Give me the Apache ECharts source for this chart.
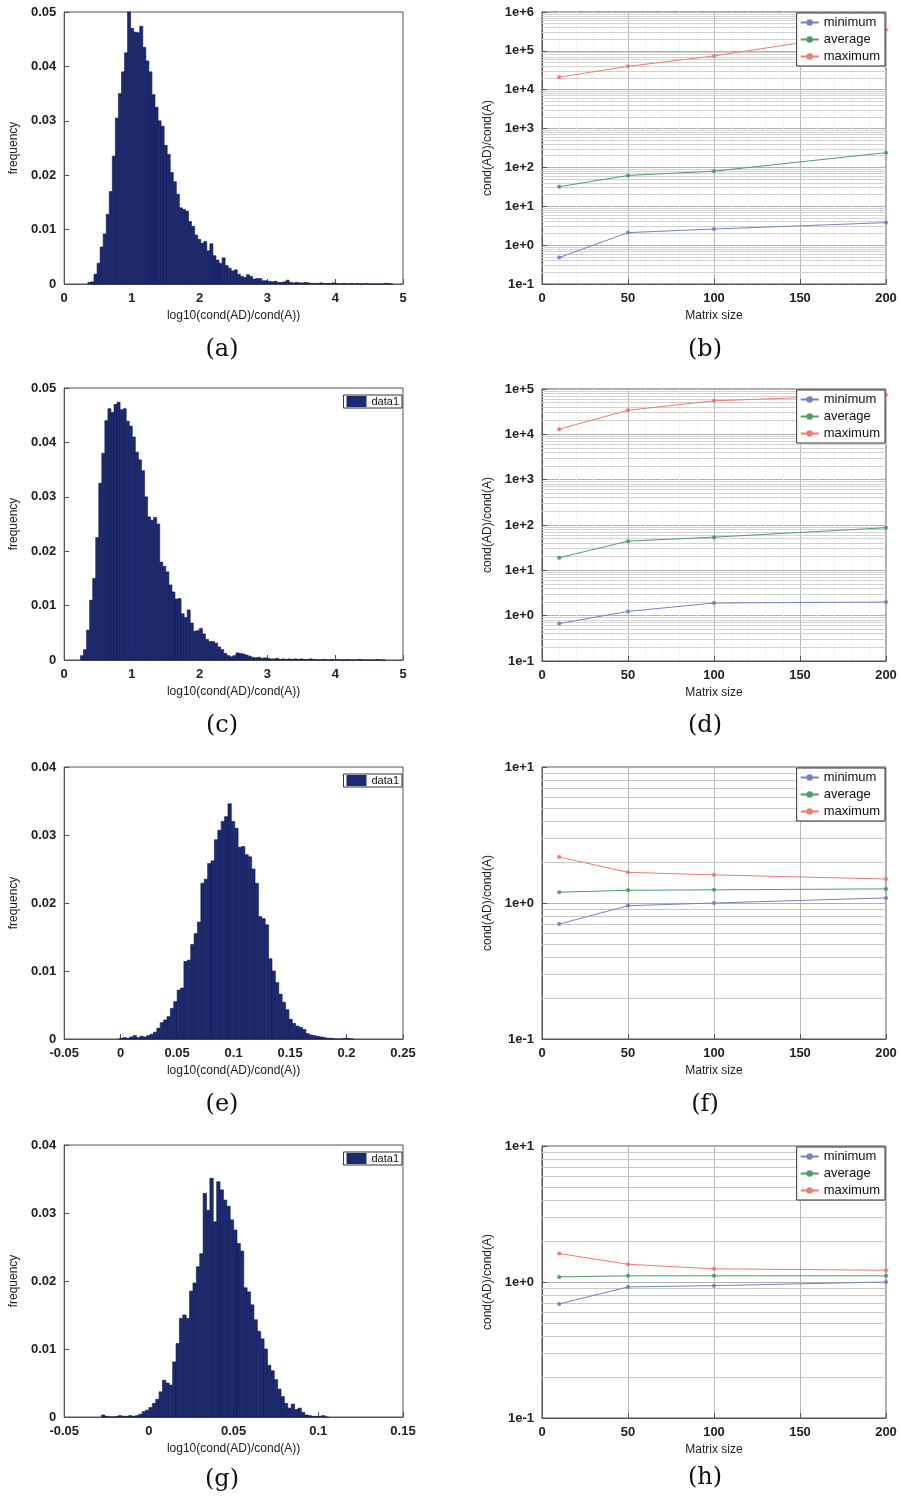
<!DOCTYPE html>
<html>
<head>
<meta charset="utf-8">
<title>cond(AD)/cond(A)</title>
<script src="https://cdn.jsdelivr.net/npm/echarts@6/dist/echarts.min.js"></script>
<style>
  html, body { margin: 0; padding: 0; background: #fff; }
  .panel { position: absolute; }
</style>
</head>
<body>
<div id="pa" class="panel" style="left:0;top:0;width:450px;height:370px"></div>
<div id="pb" class="panel" style="left:450px;top:0;width:451px;height:370px"></div>
<div id="pc" class="panel" style="left:0;top:370px;width:450px;height:380px"></div>
<div id="pd" class="panel" style="left:450px;top:370px;width:451px;height:380px"></div>
<div id="pe" class="panel" style="left:0;top:750px;width:450px;height:380px"></div>
<div id="pf" class="panel" style="left:450px;top:750px;width:451px;height:380px"></div>
<div id="pg" class="panel" style="left:0;top:1130px;width:450px;height:369px"></div>
<div id="ph" class="panel" style="left:450px;top:1130px;width:451px;height:369px"></div>
<script>
// histogram heights (frequency), one value per bin
var histA = [0.0003,0.0004,0.0018,0.0038,0.0068,0.0092,0.0128,0.0170,0.0235,0.0305,
    0.0350,0.0390,0.0425,0.0500,0.0470,0.0463,0.0462,0.0474,0.0435,0.0410,
    0.0390,0.0348,0.0325,0.0300,0.0290,0.0255,0.0238,0.0205,0.0188,0.0165,
    0.0140,0.0137,0.0134,0.0115,0.0106,0.0090,0.0082,0.0075,0.0078,0.0061,
    0.0074,0.0052,0.0044,0.0038,0.0048,0.0034,0.0029,0.0024,0.0026,0.0018,
    0.0014,0.0012,0.0017,0.0014,0.0009,0.0010,0.0010,0.0006,0.0006,0.0005,
    0.0004,0.0005,0.0003,0.0003,0.0004,0.0007,0.0003,0.0002,0.0003,0.0002,
    0.0002,0.0003,0.0002,0.0001,0.0001,0.0001,0.0002,0.0001,0.0001,0.0001,
    0.0002,0.0001,0,0.0001,0.0001,0,0.0001,0,0.0001,0,
    0,0.0001,0,0,0,0,0,0.0001,0.0001,0];
var histAStart = 0.35, histABin = 0.045;

var histC = [0.0008,0.0019,0.0055,0.0110,0.0150,0.0225,0.0325,0.0380,0.0440,0.0462,
    0.0455,0.0470,0.0474,0.0460,0.0462,0.0439,0.0430,0.0410,0.0382,0.0368,
    0.0348,0.0300,0.0263,0.0257,0.0262,0.0250,0.0180,0.0172,0.0162,0.0138,
    0.0125,0.0112,0.0113,0.0085,0.0078,0.0092,0.0068,0.0053,0.0054,0.0058,
    0.0048,0.0038,0.0034,0.0034,0.0031,0.0024,0.0019,0.0012,0.0008,0.0006,
    0.0008,0.0013,0.0012,0.0011,0.0009,0.0007,0.0005,0.0004,0.0005,0.0003,
    0.0004,0.0003,0.0002,0.0002,0.0003,0.0001,0.0002,0.0001,0.0002,0.0001,
    0.0002,0.0001,0.0002,0.0001,0.0001,0.0002,0.0001,0.0001,0,0.0001,
    0.0001,0,0.0001,0,0.0001,0,0,0.0001,0,0,
    0,0.0001,0,0,0,0,0,0.0001,0,0];
var histCStart = 0.24, histCBin = 0.045;

var histE = [0.0001,0.0002,0.0001,0.0003,0.0005,0.0002,0.0004,0.0003,0.0005,0.0007,
    0.0010,0.0016,0.0024,0.0028,0.0033,0.0045,0.0055,0.0072,0.0075,0.0114,
    0.0116,0.0139,0.0155,0.0172,0.0229,0.0235,0.0258,0.0262,0.0293,0.0307,
    0.0320,0.0327,0.0346,0.0320,0.0310,0.0282,0.0283,0.0271,0.0268,0.0250,
    0.0229,0.0180,0.0177,0.0168,0.0118,0.0100,0.0083,0.0066,0.0054,0.0043,
    0.0029,0.0023,0.0019,0.0017,0.0014,0.0008,0.0006,0.0005,0.0004,0.0003,
    0.0002,0.0001,0.0001,0,0,0,0.0001,0.0001,0];
var histEStart = -0.001, histEBin = 0.003;

var histG = [0.0003,0.0001,0,0,0.0001,0.0002,0.0001,0.0001,0.0002,0.0001,
    0.0002,0.0004,0.0008,0.0010,0.0014,0.0020,0.0026,0.0037,0.0054,0.0050,
    0.0047,0.0081,0.0108,0.0145,0.0150,0.0145,0.0185,0.0197,0.0221,0.0240,
    0.0329,0.0304,0.0351,0.0287,0.0346,0.0334,0.0319,0.0310,0.0290,0.0275,
    0.0255,0.0244,0.0190,0.0184,0.0165,0.0143,0.0126,0.0115,0.0100,0.0076,
    0.0068,0.0055,0.0041,0.0030,0.0020,0.0013,0.0019,0.0011,0.0013,0.0007,
    0.0003,0.0002,0.0001,0.0001,0.0001,0.0002,0];
var histGStart = -0.028, histGBin = 0.002;

// cond(AD)/cond(A) against matrix size
var matrixSize = [10, 50, 100, 200];
var minB = [0.48, 2.1, 2.6, 3.8];
var avgB = [32, 62, 80, 240];
var maxB = [21000, 40000, 74000, 350000];
var minD = [0.67, 1.24, 1.9, 2.0];
var avgD = [19, 44, 54, 87];
var maxD = [13000, 34000, 55000, 75000];
var minF = [0.70, 0.955, 1.0, 1.09];
var avgF = [1.2, 1.24, 1.25, 1.27];
var maxF = [2.18, 1.68, 1.61, 1.5];
var minH = [0.69, 0.92, 0.94, 1.0];
var avgH = [1.09, 1.11, 1.11, 1.11];
var maxH = [1.62, 1.35, 1.25, 1.22];

var lineNames = ['minimum', 'average', 'maximum'];
var lineColors = ['#7482c6', '#4e9e6c', '#ef7b71'];

var barColor = '#1e2a70';
var edgeColor = '#111a52';
var frameColor = '#555';
var font = '"Liberation Sans", Arial, sans-serif';

var toBins = function (heights, start, width) {
    return heights.map(function (h, i) {
        return [start + i * width, start + (i + 1) * width, h];
    });
};

var renderBin = function (params, api) {
    var p0 = api.coord([api.value(0), 0]);
    var p1 = api.coord([api.value(1), api.value(2)]);
    return {
        type: 'rect',
        shape: { x: p0[0], y: p1[1], width: p1[0] - p0[0], height: p0[1] - p1[1] },
        style: { fill: barColor, stroke: edgeColor, lineWidth: 0.6 }
    };
};

var caption = function (text, x, y) {
    return {
        type: 'text', x: x, y: y, z: 10,
        style: {
            text: text, textAlign: 'center', textVerticalAlign: 'middle',
            font: '24px "DejaVu Serif", "Liberation Serif", serif', fill: '#111'
        }
    };
};

var tickLabel = { fontSize: 13, color: '#222', fontWeight: 'bold', fontFamily: font };
var nameStyle = { fontSize: 12, color: '#222', fontFamily: font };

var histChart = function (domId, bins, xMin, xMax, xStep, yMax, gridTop, withLegend, cap, capY) {
    var myChart = echarts.init(document.getElementById(domId));
    var option = {
        animation: false,
        grid: {
            left: 57, width: 346, top: gridTop, height: 272,
            show: true, borderColor: frameColor, borderWidth: 1, backgroundColor: 'transparent'
        },
        xAxis: {
            type: 'value', min: xMin, max: xMax, interval: xStep,
            axisLine: { onZero: false, lineStyle: { color: frameColor } },
            axisTick: { inside: true, length: 5, lineStyle: { color: frameColor } },
            axisLabel: tickLabel,
            splitLine: { show: false },
            name: 'log10(cond(AD)/cond(A))', nameLocation: 'middle', nameGap: 23,
            nameTextStyle: nameStyle
        },
        yAxis: {
            type: 'value', min: 0, max: yMax, interval: 0.01,
            axisLine: { show: true, onZero: false, lineStyle: { color: frameColor } },
            axisTick: { show: true, inside: true, length: 5, lineStyle: { color: frameColor } },
            axisLabel: tickLabel,
            splitLine: { show: false },
            name: 'frequency', nameLocation: 'middle', nameGap: 36,
            nameTextStyle: nameStyle
        },
        series: [{
            name: 'data1',
            type: 'custom',
            renderItem: renderBin,
            itemStyle: { color: barColor },
            encode: { x: [0, 1], y: 2 },
            data: bins
        }],
        graphic: [caption(cap, 222, capY)]
    };
    if (withLegend) {
        option.legend = {
            data: [{ name: 'data1', icon: 'rect' }],
            right: 48, top: gridTop + 7, z: 20,
            backgroundColor: '#fff', borderColor: '#333', borderWidth: 1, borderRadius: 0,
            padding: [1, 3, 1, 3], itemWidth: 20, itemHeight: 11, itemGap: 2,
            textStyle: { fontSize: 11, color: '#111', fontFamily: font }
        };
    }
    myChart.setOption(option);
};

var logChart = function (domId, minV, avgV, maxV, yMax, gridTop, dense, cap, capY) {
    var myChart = echarts.init(document.getElementById(domId));

    // minor grid lines at 2..9 of every decade
    var minorLines = [];
    var topExp = Math.round(Math.log10(yMax));
    for (var k = -1; k < topExp; k++) {
        for (var m = 2; m <= 9; m++) {
            minorLines.push({ yAxis: m * Math.pow(10, k) });
        }
    }

    var pairs = function (vals) {
        return matrixSize.map(function (s, i) { return [s, vals[i]]; });
    };
    var lineSeries = function (idx, vals) {
        return {
            name: lineNames[idx], type: 'line', z: 3,
            symbol: 'circle', symbolSize: 4, showSymbol: true,
            lineStyle: { width: 1, color: lineColors[idx] },
            itemStyle: { color: lineColors[idx] },
            data: pairs(vals)
        };
    };

    var option = {
        animation: false,
        grid: {
            left: 92, width: 344, top: gridTop, height: 272,
            show: true, borderColor: frameColor, borderWidth: 1, backgroundColor: 'transparent'
        },
        legend: {
            data: lineNames, orient: 'vertical', right: 16, top: gridTop + 1, z: 20,
            backgroundColor: '#fff', borderColor: '#333', borderWidth: 1, borderRadius: 0,
            padding: [3, 5, 3, 3], itemGap: 4, itemWidth: 18, itemHeight: 8,
            textStyle: { fontSize: 13, color: '#111', fontFamily: font }
        },
        xAxis: {
            type: 'value', min: 0, max: 200, interval: 50,
            axisLine: { onZero: false, lineStyle: { color: frameColor } },
            axisTick: { inside: true, length: 5, lineStyle: { color: frameColor } },
            axisLabel: tickLabel,
            splitLine: { show: true, lineStyle: { color: '#b9b9b9', width: 1 } },
            minorTick: { show: false, splitNumber: 5 },
            minorSplitLine: { show: dense, lineStyle: { color: '#ebebeb', width: 1, type: 'dotted' } },
            name: 'Matrix size', nameLocation: 'middle', nameGap: 23,
            nameTextStyle: nameStyle
        },
        yAxis: {
            type: 'log', logBase: 10, min: 0.1, max: yMax, interval: 1,
            axisLine: { show: true, onZero: false, lineStyle: { color: frameColor } },
            axisTick: { show: true, inside: true, length: 5, lineStyle: { color: frameColor } },
            axisLabel: {
                fontSize: 13, color: '#222', fontWeight: 'bold', fontFamily: font,
                formatter: function (v) {
                    var e = Math.round(Math.log10(v));
                    return '1e' + (e >= 0 ? '+' : '') + e;
                }
            },
            splitLine: { show: true, lineStyle: { color: '#b0b0b0', width: 1 } },
            name: 'cond(AD)/cond(A)', nameLocation: 'middle', nameGap: 43,
            nameTextStyle: nameStyle
        },
        series: [
            {
                name: 'minorGrid', type: 'line', z: 1, data: [],
                markLine: {
                    silent: true, symbol: 'none', label: { show: false }, z: 1,
                    lineStyle: { color: dense ? '#d2d2d2' : '#c8c8c8', width: 1, type: 'solid' },
                    data: minorLines
                }
            },
            lineSeries(0, minV),
            lineSeries(1, avgV),
            lineSeries(2, maxV)
        ],
        graphic: [caption(cap, 255, capY)]
    };
    myChart.setOption(option);
};

histChart('pa', toBins(histA, histAStart, histABin), 0, 5, 1, 0.05, 12, false, '(a)', 350);
histChart('pc', toBins(histC, histCStart, histCBin), 0, 5, 1, 0.05, 18, true, '(c)', 356);
histChart('pe', toBins(histE, histEStart, histEBin), -0.05, 0.25, 0.05, 0.04, 17, true, '(e)', 355);
histChart('pg', toBins(histG, histGStart, histGBin), -0.05, 0.15, 0.05, 0.04, 15, true, '(g)', 350);

logChart('pb', minB, avgB, maxB, 1e6, 12, true, '(b)', 350);
logChart('pd', minD, avgD, maxD, 1e5, 19, true, '(d)', 356);
logChart('pf', minF, avgF, maxF, 10, 17, false, '(f)', 355);
logChart('ph', minH, avgH, maxH, 10, 16, false, '(h)', 348);
</script>
</body>
</html>
